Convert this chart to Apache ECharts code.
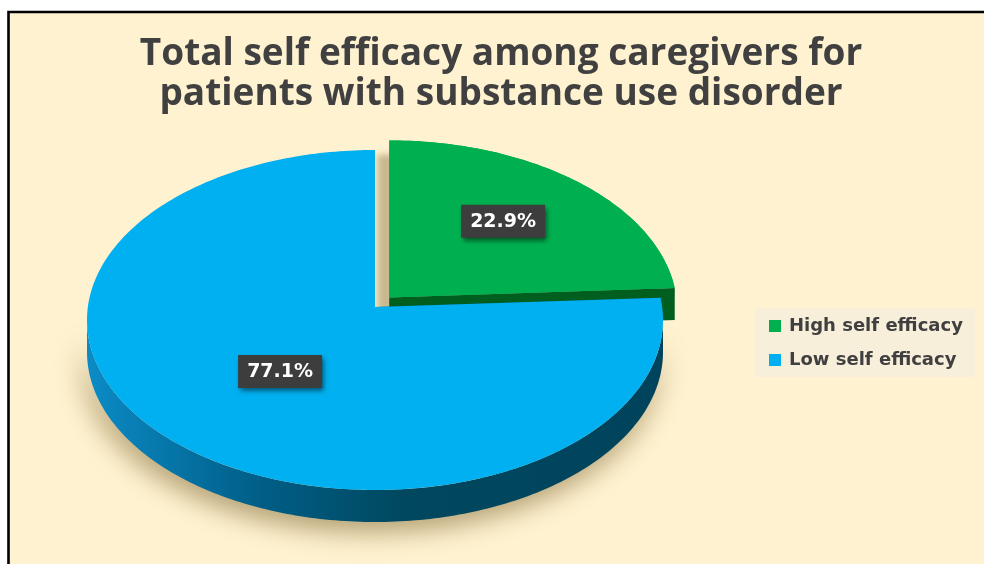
<!DOCTYPE html>
<html>
<head>
<meta charset="utf-8">
<script src="https://cdn.jsdelivr.net/npm/echarts@6/dist/echarts.min.js"></script>
<style>
html,body{margin:0;padding:0;background:#fff;}
#chart{width:984px;height:564px;}
</style>
</head>
<body>
<div id="chart"></div>
<script>
// ---- data ----
const titleText = 'Total self efficacy among caregivers for\npatients with substance use disorder';
const categories = ['High self efficacy', 'Low self efficacy'];
const values = [22.9, 77.1];
const valueLabels = ['22.9%', '77.1%'];

// ---- style ----
const topColors = ['#00B050', '#00B0F0'];
const cutColors = ['#005E1F', '#005A80'];
const wallStops = [
  [{offset: 0, color: '#0A7A2E'}, {offset: 1, color: '#004A18'}],
  [{offset: 0, color: '#0B8BC6'}, {offset: 0.3, color: '#005E87'}, {offset: 0.55, color: '#00485F'}, {offset: 1, color: '#00435C'}]
];
const exploded = [true, false];
const labelRadius = [0.6, 0.5];
const G = {cx: 375, cy: 320, rx: 288, ry: 170, apexDy: -13, depth: 32, explode: 0.075};

const total = values.reduce((a, b) => a + b, 0);

function makeRender(idx) {
  return function (params, api) {
    let start = 0;
    for (let k = 0; k < idx; k++) start += values[k];
    const v = api.value(0);
    const a0 = start / total * Math.PI * 2;
    const a1 = (start + v) / total * Math.PI * 2;
    const mid = (a0 + a1) / 2;
    let ox = 0, oy = 0;
    if (exploded[idx]) {
      ox = Math.sin(mid) * G.rx * G.explode;
      oy = -Math.cos(mid) * G.ry * G.explode;
    }
    const P = (t, dz) => [G.cx + ox + G.rx * Math.sin(t), G.cy + oy - G.ry * Math.cos(t) + (dz || 0)];
    const A = (dz) => [G.cx + ox, G.cy + G.apexDy + oy + (dz || 0)];
    const arc = (s, e, dz) => {
      const pts = [];
      const n = Math.max(2, Math.ceil((e - s) / (Math.PI / 180)));
      for (let i = 0; i <= n; i++) pts.push(P(s + (e - s) * i / n, dz));
      return pts;
    };
    const topShape = {points: [A(0)].concat(arc(a0, a1, 0))};
    const children = [];
    // shadow caster for the exploded slice (covered by its own top face)
    if (exploded[idx]) {
      children.push({
        type: 'polygon',
        shape: topShape,
        style: {fill: topColors[idx], shadowBlur: 6, shadowColor: 'rgba(120,100,50,0.4)', shadowOffsetY: 14, shadowOffsetX: -12}
      });
    }
    // outer wall (visible front half only)
    const w0 = Math.max(a0, Math.PI / 2), w1 = Math.min(a1, Math.PI * 1.5);
    if (w1 > w0) {
      const topPts = arc(w0, w1, 0);
      const botPts = arc(w0, w1, G.depth).reverse();
      children.push({
        type: 'polygon',
        shape: {points: topPts.concat(botPts)},
        style: {
          fill: new echarts.graphic.LinearGradient(G.cx - G.rx, 0, G.cx + G.rx, 0, wallStops[idx], true),
          shadowBlur: 28, shadowColor: 'rgba(110,85,30,0.6)', shadowOffsetY: 8, shadowOffsetX: -4
        }
      });
    }
    // radial cut faces
    [a0, a1].forEach(function (t) {
      children.push({
        type: 'polygon',
        shape: {points: [A(0), P(t, 0), P(t, G.depth), A(G.depth)]},
        style: {fill: cutColors[idx]}
      });
    });
    // top face
    children.push({type: 'polygon', shape: topShape, style: {fill: topColors[idx]}});
    // data label
    const f = labelRadius[idx];
    const lx = G.cx + ox + G.rx * f * Math.sin(mid);
    const ly = G.cy + G.apexDy + oy - G.ry * f * Math.cos(mid);
    children.push({
      type: 'rect',
      shape: {x: lx - 42, y: ly - 16, width: 84, height: 33},
      style: {fill: '#3D3D3D', shadowBlur: 5, shadowColor: 'rgba(0,0,0,0.55)', shadowOffsetX: 2, shadowOffsetY: 3}
    });
    children.push({
      type: 'text',
      x: lx, y: ly + 1,
      style: {
        text: valueLabels[idx], fill: '#FFFFFF',
        font: 'bold 19px "DejaVu Sans"',
        align: 'center', verticalAlign: 'middle'
      }
    });
    return {type: 'group', children: children};
  };
}

const chart = echarts.init(document.getElementById('chart'), null, {renderer: 'canvas'});
chart.setOption({
  animation: false,
  backgroundColor: '#FFFFFF',
  graphic: [{
    type: 'rect', z: -10, silent: true,
    shape: {x: 8.5, y: 12, width: 1000, height: 600},
    style: {fill: '#FFF2D0', stroke: '#000000', lineWidth: 2.6}
  }],
  title: {
    text: titleText,
    left: 501, top: 34,
    textAlign: 'center',
    padding: 0,
    textStyle: {fontFamily: '"Open Sans"', fontWeight: 'bold', fontSize: 37, lineHeight: 40, color: '#404040'}
  },
  legend: {
    orient: 'vertical',
    left: 755, top: 308,
    padding: [8, 12, 7, 14],
    backgroundColor: '#F8EFDB',
    itemWidth: 12, itemHeight: 12, itemGap: 14,
    icon: 'rect',
    data: categories,
    textStyle: {fontFamily: '"DejaVu Sans"', fontWeight: 'bold', fontSize: 18, lineHeight: 20, padding: [0, 0, 0, 3], color: '#404040'}
  },
  series: categories.map(function (name, i) {
    return {
      type: 'custom',
      name: name,
      coordinateSystem: 'none',
      itemStyle: {color: topColors[i]},
      renderItem: makeRender(i),
      data: [[values[i]]]
    };
  })
});
</script>
</body>
</html>
